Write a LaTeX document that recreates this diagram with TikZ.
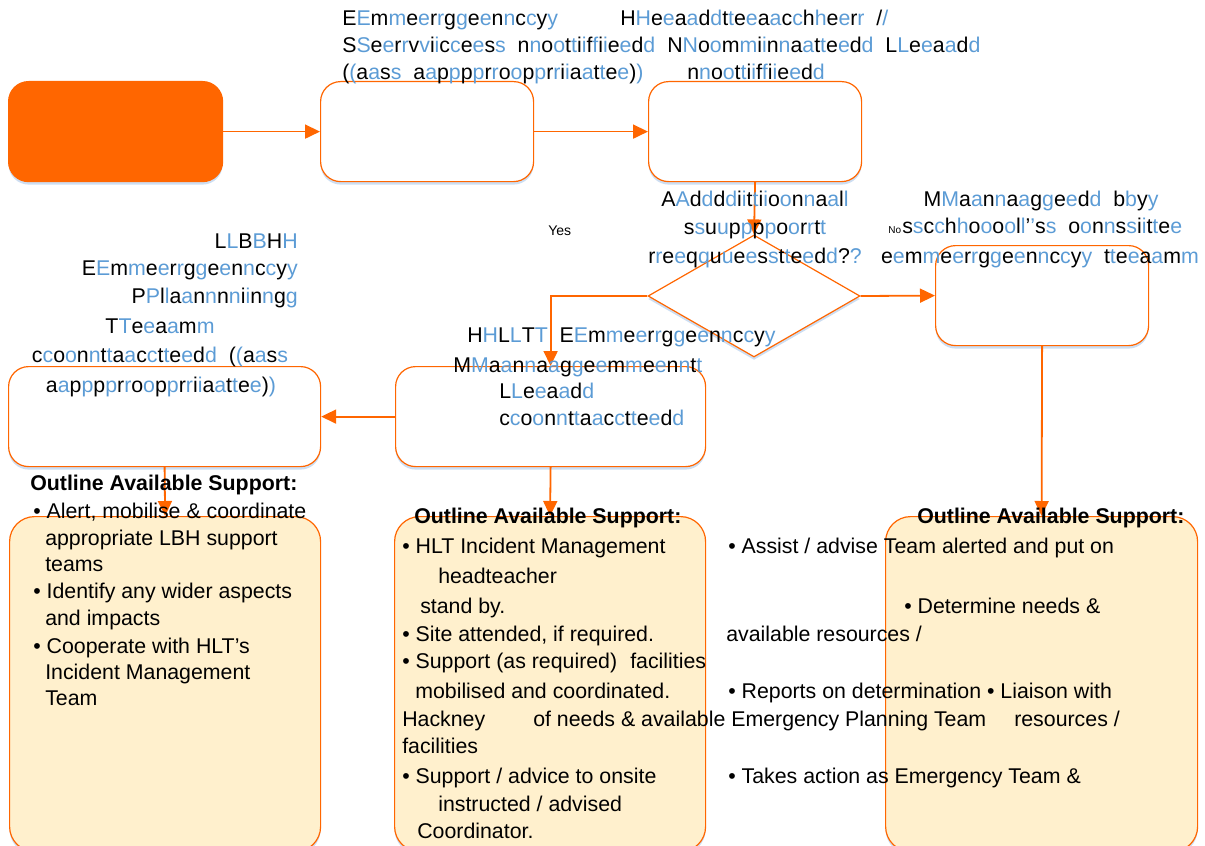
\documentclass[tikz,border=0pt]{standalone}
\usepackage{fontspec}
\setmainfont{Liberation Sans}
\usetikzlibrary{arrows.meta,shapes.geometric,shadows}
\definecolor{hkorange}{RGB}{255,102,0}
\definecolor{hkyellow}{RGB}{255,240,205}
\definecolor{hkblue}{RGB}{91,155,213}
\definecolor{hkshadow}{RGB}{205,222,242}
\newlength\px
\setlength\px{0.75pt}
% every letter twice: black, then blue
\def\twin#1{\twinnext#1\relax}
\def\twinnext#1{\ifx\relax#1\else#1\textcolor{hkblue}{#1}\expandafter\twinnext\fi}
\newcommand\twinsp{\ \ }
\newcommand\fs{\fontsize{16}{19}\selectfont}
\tikzset{
  box/.style={draw=hkorange, line width=1.2\px, rounded corners=20\px, fill=white,
    minimum width=213\px, minimum height=100\px, inner sep=0pt, anchor=north west,
    drop shadow={shadow xshift=0pt, shadow yshift=-3\px, fill=hkshadow, opacity=1}},
  supp/.style={box, fill=hkyellow, minimum width=311\px, minimum height=335\px, rounded corners=25\px},
  arr/.style={draw=hkorange, line width=1.8\px, -{Triangle[length=11.25pt, width=10.5pt]}},
  txt/.style={anchor=base west, inner sep=0pt, font=\fs},
  ctxt/.style={txt, anchor=base},
  rtxt/.style={txt, anchor=base east},
  head/.style={txt, font=\fs\bfseries}
}
\begin{document}
\begin{tikzpicture}[x=0.75pt, y=-0.75pt]
		%%%%% FRAME %%%%%
		\useasboundingbox (0,0) rectangle (1205,845);
		\clip (0,0) rectangle (1205,845);
		
		%%%%% BOXES %%%%%
		\node[box, fill=hkorange, minimum width=214\px] (start) at (8,81) {};
		\node[box] (notify) at (320,81) {};
		\node[box] (headt) at (648,81) {};
		\node[box] (school) at (935,245) {};
		\node[box, minimum width=310\px] (hlt) at (395,366) {};
		\node[box, minimum width=312\px] (lbh) at (8,366) {};
		\node[draw=hkorange, line width=1.2\px, fill=white, diamond, inner sep=0pt,
		  minimum width=212\px, minimum height=122\px,
		  drop shadow={shadow xshift=0pt, shadow yshift=-3\px, fill=hkshadow, opacity=1}] (query) at (754,296) {};
		\node[supp] (lbhsupp) at (9,516) {};
		\node[supp] (hltsupp) at (394,516) {};
		\node[supp, minimum width=312\px] (schsupp) at (885,516) {};
		
		%%%%% CONNECTORS %%%%%
		\draw[arr] (start.east) -- (notify.west);
		\draw[arr] (notify.east) -- (headt.west);
		\draw[arr] (headt.south) -- (query.north);
		\draw[arr] (query.west) -| (hlt.north);
		\draw[arr] (query.east) -- (school.west);
		\draw[arr] (school.south) -- (schsupp.north);
		\draw[arr] (hlt.west) -- (lbh.east);
		\draw[arr] (lbh.south) -- (lbhsupp.north);
		\draw[arr] (hlt.south) -- (hltsupp.north);
		
		%%%%% TOP LABELS %%%%%
		\node[txt] (em1) at (342,26) {\twin{Emergency}};
		\node[txt] (hd1) at (620,26) {\twin{Headteacher}\twinsp\twin{/}};
		\node[txt] (em2) at (342,53) {\twin{Services}\twinsp\twin{notified}};
		\node[txt] (hd2) at (667,53) {\twin{Nominated}\twinsp\twin{Lead}};
		\node[txt] (em3) at (342,80) {\twin{(as}\twinsp\twin{appropriate)}};
		\node[txt] (hd3) at (687,80) {\twin{notified}};
		
		\node[ctxt] (ad1) at (755,206) {\twin{Additional}};
		\node[ctxt] (ad2) at (755,234) {\twin{support}};
		\node[ctxt] (ad3) at (755,263) {\twin{requested?}};
		\node[txt, font=\fontsize{10.5}{12}\selectfont] (yes) at (548,235) {Yes};
		
		\node[ctxt] (sc1) at (1041,206) {\twin{Managed}\twinsp\twin{by}};
		\node[txt] (sc2) at (902,233) {\twin{school’s}\twinsp\twin{onsite}};
		\node[ctxt] (sc3) at (1040,263) {\twin{emergency}\twinsp\twin{team}};
		\node[txt, font=\fontsize{7.5}{9}\selectfont] (no) at (888,233) {No};
		
		\node[rtxt] (lb1) at (298,248) {\twin{LBH}};
		\node[rtxt] (lb2) at (298,275) {\twin{Emergency}};
		\node[rtxt] (lb3) at (298,303) {\twin{Planning}};
		\node[ctxt] (lb4) at (160,333) {\twin{Team}};
		\node[ctxt] (lb5) at (160,362) {\twin{contacted}\twinsp\twin{(as}};
		\node[ctxt] (lb6) at (161,392) {\twin{appropriate)}};
		
		\node[txt] (hl1) at (467,342) {\twin{HLT}\twinsp\twin{Emergency}};
		\node[txt] (hl2) at (453,372) {\twin{Management}};
		\node[txt] (hl3) at (499,398) {\twin{Lead}};
		\node[txt] (hl4) at (499,425) {\twin{contacted}};
		
		%%%%% SUPPORT TEXT %%%%%
		\node[head] (lh) at (30,490) {Outline Available Support:};
		\node[txt] (l1) at (33,518) {• Alert, mobilise \& coordinate};
		\node[txt] (l2) at (45,545) {appropriate LBH support};
		\node[txt] (l3) at (45,571) {teams};
		\node[txt] (l4) at (33,598) {• Identify any wider aspects};
		\node[txt] (l5) at (45,625) {and impacts};
		\node[txt] (l6) at (33,653) {• Cooperate with HLT’s};
		\node[txt] (l7) at (45,679) {Incident Management};
		\node[txt] (l8) at (45,705) {Team};
		
		\node[head] (mh) at (414,523) {Outline Available Support:};
		\node[txt] (m1) at (402,553) {• HLT Incident Management};
		\node[txt] (m2) at (438,583) {headteacher};
		\node[txt] (m3) at (420,613) {stand by.};
		\node[txt] (m4) at (402,641) {• Site attended, if required.};
		\node[txt] (m5) at (402,668) {• Support (as required)};
		\node[txt] (m6) at (630,668) {facilities};
		\node[txt] (m7) at (415,698) {mobilised and coordinated.};
		\node[txt] (m8) at (402,726) {Hackney};
		\node[txt] (m9) at (533,726) {of needs \& available Emergency Planning Team};
		\node[txt] (m10) at (1014,726) {resources /};
		\node[txt] (m11) at (402,753) {facilities};
		\node[txt] (m12) at (402,783) {• Support / advice to onsite};
		\node[txt] (m13) at (438,811) {instructed / advised};
		\node[txt] (m14) at (417,838) {Coordinator.};
		
		\node[head] (rh) at (917,523) {Outline Available Support:};
		\node[txt] (r1) at (728,553) {• Assist / advise Team alerted and put on};
		\node[txt] (r2) at (904,613) {• Determine needs \&};
		\node[txt] (r3) at (726,641) {available resources /};
		\node[txt] (r4) at (728,698) {• Reports on determination • Liaison with};
		\node[txt] (r5) at (728,783) {• Takes action as Emergency Team \&};
		
		%%%%% END %%%%%
	\end{tikzpicture}
\end{document}
